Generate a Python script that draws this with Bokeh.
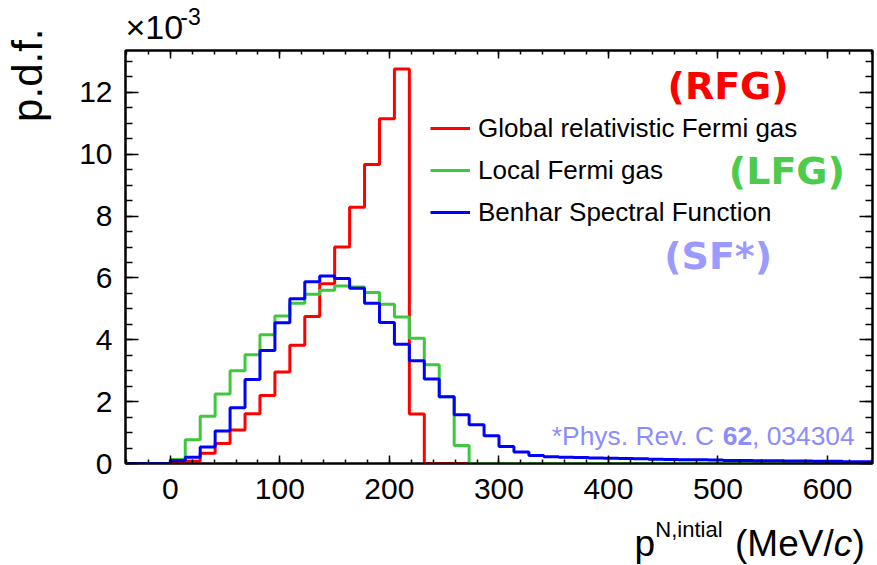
import numpy as np
from bokeh.plotting import figure
from bokeh.layouts import row, column
from bokeh.models import (Range1d, FixedTicker, LinearAxis, Label, Legend, LegendItem,
                          CustomLabelingPolicy)
from bokeh.embed import file_html
from bokeh.resources import INLINE

# ---------------- data (p.d.f. in units of 1e-3) ----------------
bin_width = 13.64          # MeV/c
x_lo = -40.92              # lower edge of first bin
n_bins = 50

# three empty bins below 0, then bins starting at 0 MeV/c
rfg = [0.0, 0.0, 0.0,
       0.01, 0.07, 0.33, 0.65, 1.08, 1.61, 2.20, 2.96, 3.82, 4.75, 5.81,
       7.00, 8.29, 9.67, 11.15, 12.76, 1.60] + [0.0] * 30
lfg = [0.0, 0.0, 0.0,
       0.13, 0.77, 1.53, 2.25, 3.00, 3.52, 4.16, 4.77, 5.18, 5.47, 5.60,
       5.74, 5.71, 5.53, 5.15, 4.74, 4.05, 3.19, 2.16, 0.58] + [0.0] * 27
sf = [0.0, 0.0, 0.0,
      0.10, 0.20, 0.53, 1.05, 1.80, 2.72, 3.65, 4.55, 5.33, 5.88, 6.06,
      5.98, 5.67, 5.18, 4.56, 3.86, 3.32, 2.73, 2.16, 1.58, 1.25, 0.90,
      0.55, 0.37, 0.26, 0.22, 0.20, 0.19, 0.18, 0.17, 0.16, 0.15, 0.14,
      0.13, 0.12, 0.12, 0.11, 0.10, 0.10, 0.09, 0.09, 0.08, 0.08, 0.07,
      0.07, 0.06, 0.06]

series_names = ["Global relativistic Fermi gas", "Local Fermi gas",
                "Benhar Spectral Function"]
x_major_ticks = [0, 100, 200, 300, 400, 500, 600]
x_minor_ticks = list(range(-40, 641, 20))
y_major_ticks = [0, 2, 4, 6, 8, 10, 12]
y_minor_ticks = [i * 0.5 for i in range(0, 27)]

edges = x_lo + bin_width * np.arange(n_bins + 1)

# ---------------- layout (global pixel geometry) ----------------
W, H = 877, 565
LEFT_W = 62                       # strip holding the y title
TOP_H = 46                        # strip holding the x10^-3 exponent
BOT_H = 50                        # strip holding the x title
MAIN_W = W - LEFT_W
MAIN_H = H - TOP_H - BOT_H
FL, FR, FT, FB = 125, 875, 49, 463   # frame edges in global pixels
BL = 0.35                          # label anchor sits this many em above the baseline

x_range = (x_lo, x_lo + bin_width * n_bins)
y_range = (0.0, 13.355)
FONT = "Liberation Sans"


def dx(px):
    return x_range[0] + (px - FL) * (x_range[1] - x_range[0]) / (FR - FL)


def dy(py):
    return y_range[0] + (FB - py) * (y_range[1] - y_range[0]) / (FB - FT)


p = figure(width=MAIN_W, height=MAIN_H, x_range=Range1d(*x_range), y_range=Range1d(*y_range),
           output_backend="svg", toolbar_location=None,
           min_border_left=FL - LEFT_W, min_border_right=W - FR,
           min_border_top=FT - TOP_H, min_border_bottom=(TOP_H + MAIN_H) - FB)
p.grid.visible = False
p.background_fill_color = "white"
p.border_fill_color = "white"
p.outline_line_color = "black"
p.outline_line_width = 2

xt = FixedTicker(ticks=x_major_ticks, minor_ticks=x_minor_ticks)
yt = FixedTicker(ticks=y_major_ticks, minor_ticks=y_minor_ticks)

no_labels = CustomLabelingPolicy(
    code="for (let i = 0; i < indices.size; i++) { indices.unset(i) }\nreturn indices")


def style_axis(ax, tick_in, minor_in, show_labels, standoff=12):
    ax.axis_line_color = "black"
    ax.axis_line_width = 2
    ax.major_tick_line_color = "black"
    ax.minor_tick_line_color = "black"
    ax.major_tick_line_width = 1.5
    ax.minor_tick_line_width = 1.5
    ax.major_tick_in = tick_in
    ax.major_tick_out = 0
    ax.minor_tick_in = minor_in
    ax.minor_tick_out = 0
    ax.major_label_text_font = FONT
    if show_labels:
        ax.major_label_text_font_size = "30px"
        ax.major_label_text_color = "black"
        ax.major_label_standoff = standoff
    else:
        ax.major_label_text_font_size = "2px"
        ax.major_label_standoff = 0
        ax.major_label_policy = no_labels


p.xaxis.ticker = xt
p.yaxis.ticker = yt
style_axis(p.xaxis[0], 8, 4, True, 15)
style_axis(p.yaxis[0], 13, 7, True, 13)

top_ax = LinearAxis(ticker=xt)
right_ax = LinearAxis(ticker=yt)
style_axis(top_ax, 8, 4, False)
style_axis(right_ax, 13, 7, False)
p.add_layout(top_ax, "above")
p.add_layout(right_ax, "right")

colors = ["#ff0000", "#3ec83e", "#0000ff"]
renderers = []
for vals, c in zip([rfg, lfg, sf], colors):
    yv = list(vals) + [vals[-1]]
    r = p.step(x=edges, y=yv, mode="after", line_color=c, line_width=3)
    renderers.append(r)

legend = Legend(items=[LegendItem(label=n, renderers=[r]) for n, r in zip(series_names, renderers)],
                location=(430 - FL, FB - 229), orientation="vertical",
                glyph_width=40, glyph_height=34, label_height=34, spacing=8,
                label_standoff=8, padding=0, margin=0,
                border_line_color=None, background_fill_alpha=0,
                label_text_font=FONT, label_text_font_size="26px",
                label_text_color="black", label_text_baseline="middle")
p.add_layout(legend)


def lab(fig, x, y, text, size, color="black", font=FONT, style="normal", align="left",
        angle=0):
    fig.add_layout(Label(x=x, y=y, text=text, text_font=font,
                         text_font_size=f"{size}px", text_font_style=style,
                         text_color=color, text_align=align, text_baseline="alphabetic",
                         angle=angle))


def main_lab(px, py, text, size, *a, **k):
    lab(p, dx(px), dy(py - BL * size), text, size, *a, **k)


# model tags
main_lab(730, 98, "(RFG)", 38, "#ff0000", "DejaVu Sans", "bold", "center")
main_lab(789, 183, "(LFG)", 38, "#4ccb4c", "DejaVu Sans", "bold", "center")
main_lab(720, 268, "(SF*)", 38, "#9a9aff", "DejaVu Sans", "bold", "center")

# reference
ref_col = "#8c8cff"
main_lab(553, 445, "*Phys. Rev. C", 26.4, ref_col)
main_lab(724.6, 445, "62", 26.4, ref_col, style="bold")
main_lab(754, 445, ", 034304", 26.4, ref_col)


# ---------------- text strips ----------------
def strip(w, h, xr):
    f = figure(width=w, height=h, x_range=Range1d(*xr), y_range=Range1d(0, h),
               output_backend="svg", toolbar_location=None,
               x_axis_type=None, y_axis_type=None, min_border=0)
    f.grid.visible = False
    f.outline_line_color = None
    f.background_fill_color = "white"
    f.border_fill_color = "white"
    return f


# the top and bottom strips share the main frame's horizontal extent (frames are aligned
# within a column), so their x data coordinates are global pixels
left = strip(LEFT_W, H, (0, LEFT_W))
top = strip(MAIN_W, TOP_H, (FL, FR))
bot = strip(MAIN_W, BOT_H, (FL, FR))


def left_lab(gx, gy, text, size, **k):
    # rotated 90 deg: the baseline offset runs along -x
    lab(left, gx - BL * size, H - gy, text, size, **k)


def top_lab(gx, gy, text, size, **k):
    lab(top, gx, TOP_H - (gy - BL * size), text, size, **k)


def bot_lab(gx, gy, text, size, **k):
    lab(bot, gx, BOT_H - (gy - BL * size - TOP_H - MAIN_H), text, size, **k)


# y title
left_lab(42, 28, "p.d.f.", 42, align="right", angle=np.pi / 2)

# exponent
top_lab(125, 38.5, "\u00d710", 34)
top_lab(180, 24, "-3", 23)

# x title
bot_lab(636, 555.5, "p", 37)
bot_lab(657, 537, "N,intial", 22)
bot_lab(737, 555.5, "(MeV/", 37)
bot_lab(836, 555.5, "c", 37, style="italic")
bot_lab(855, 555.5, ")", 37)

layout = row(left, column(top, p, bot, spacing=0), spacing=0)
open("out.html", "w").write(file_html(layout, INLINE))
